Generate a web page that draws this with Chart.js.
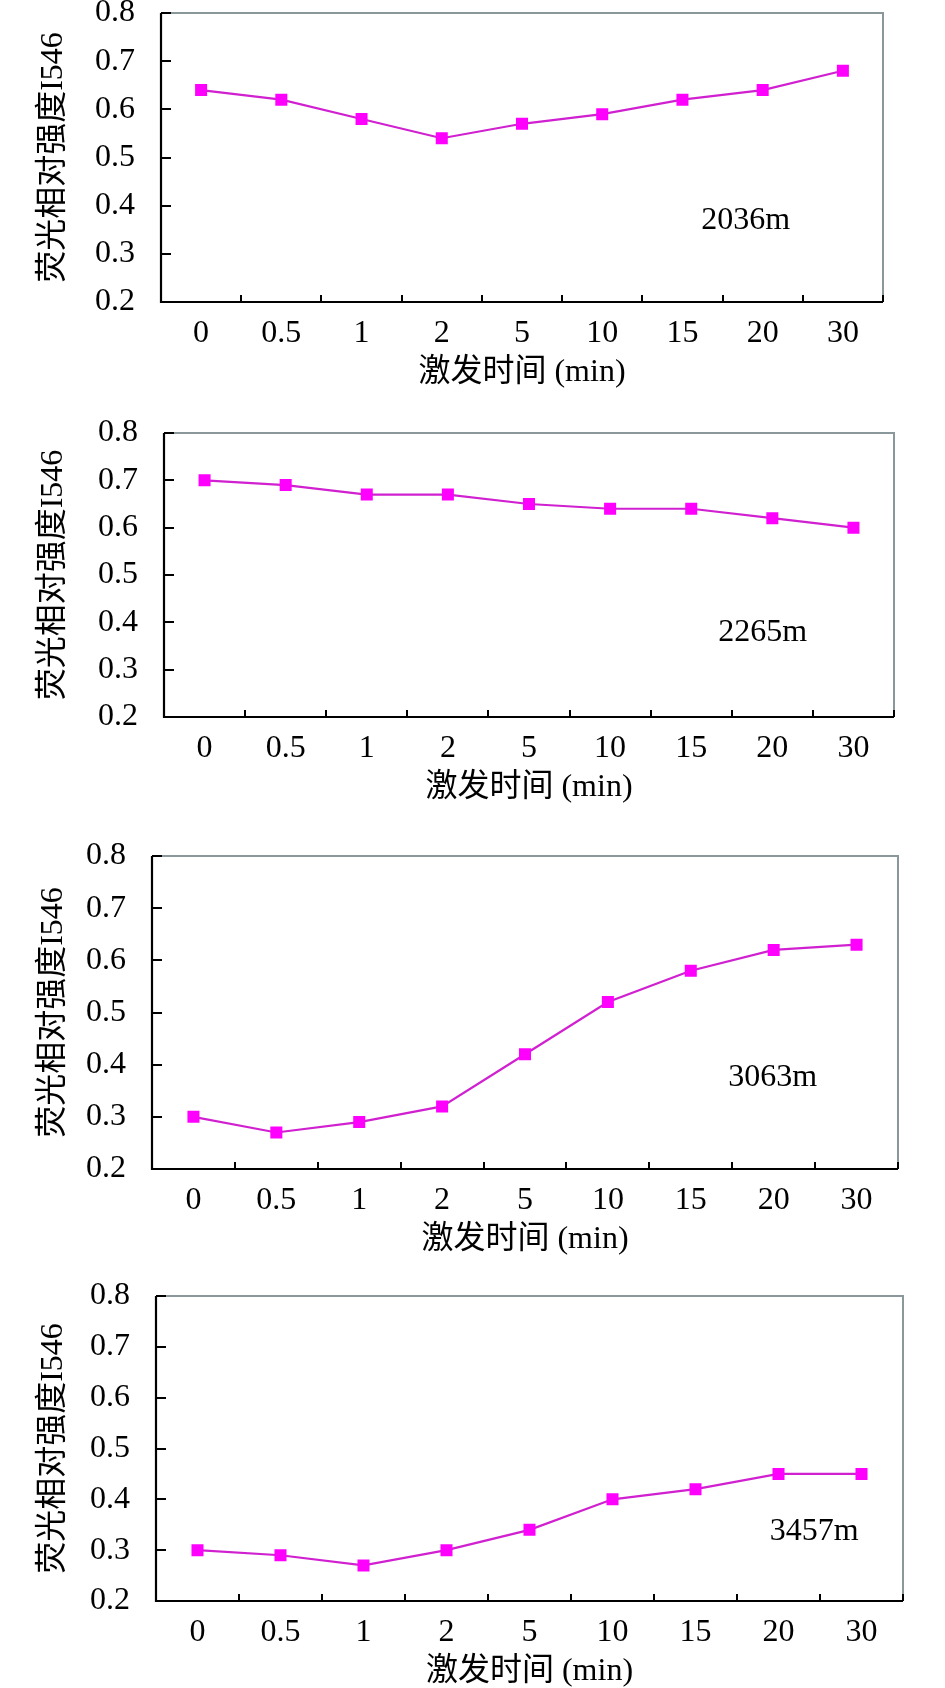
<!DOCTYPE html>
<html>
<head>
<meta charset="utf-8">
<script src="https://cdn.jsdelivr.net/npm/chart.js@4/dist/chart.umd.min.js"></script>
<style>
  html, body { margin: 0; padding: 0; background: #fff; width: 945px; height: 1688px; overflow: hidden; }
  canvas { position: absolute; left: 0; }
</style>
</head>
<body>
<canvas id="c1"></canvas>
<canvas id="c2"></canvas>
<canvas id="c3"></canvas>
<canvas id="c4"></canvas>
<script>
// ---- data ----
const categories = ['0', '0.5', '1', '2', '5', '10', '15', '20', '30'];
const values2036 = [0.64, 0.62, 0.58, 0.54, 0.57, 0.59, 0.62, 0.64, 0.68];
const values2265 = [0.70, 0.69, 0.67, 0.67, 0.65, 0.64, 0.64, 0.62, 0.60];
const values3063 = [0.30, 0.27, 0.29, 0.32, 0.42, 0.52, 0.58, 0.62, 0.63];
const values3457 = [0.30, 0.29, 0.27, 0.30, 0.34, 0.40, 0.42, 0.45, 0.45];
const depthLabels = ['2036m', '2265m', '3063m', '3457m'];
const yTicks = [0.2, 0.3, 0.4, 0.5, 0.6, 0.7, 0.8];
const yTitle = '荧光相对强度I546';
const xTitle = '激发时间 (min)';

// ---- layout (page pixels) ----
const panels = [
  { id: 'c1', data: values2036, label: depthLabels[0], top: 0,    L: 161, R: 883, T: 13,   B: 302,  ax: 0.81,  ay: 0.72 },
  { id: 'c2', data: values2265, label: depthLabels[1], top: 402,  L: 164, R: 894, T: 433,  B: 717,  ax: 0.82,  ay: 0.704 },
  { id: 'c3', data: values3063, label: depthLabels[2], top: 817,  L: 152, R: 898, T: 856,  B: 1169, ax: 0.832, ay: 0.709 },
  { id: 'c4', data: values3457, label: depthLabels[3], top: 1269, L: 156, R: 903, T: 1296, B: 1601, ax: 0.881, ay: 0.774 }
];

const FONT = "'Liberation Serif', 'Times New Roman', 'Noto Sans CJK SC', serif";
const XAXIS_H = 100;

const framePlugin = {
  id: 'frame',
  afterDraw(chart, args, opts) {
    const ctx = chart.ctx;
    const a = chart.chartArea;
    const xs = chart.scales.x, ys = chart.scales.y;
    ctx.save();
    // gray top and right border
    ctx.strokeStyle = '#8a979b';
    ctx.lineWidth = 2;
    ctx.beginPath();
    ctx.moveTo(a.left, a.top);
    ctx.lineTo(a.right, a.top);
    ctx.lineTo(a.right, a.bottom);
    ctx.stroke();
    // black left & bottom axis lines
    ctx.strokeStyle = '#000';
    ctx.lineWidth = 2.2;
    ctx.beginPath();
    ctx.moveTo(a.left, a.top);
    ctx.lineTo(a.left, a.bottom);
    ctx.lineTo(a.right, a.bottom);
    ctx.stroke();
    // inward ticks
    ctx.lineWidth = 2;
    ctx.beginPath();
    yTicks.forEach(v => {
      const y = Math.round(ys.getPixelForValue(v));
      ctx.moveTo(a.left, y);
      ctx.lineTo(a.left + 10, y);
    });
    for (let k = 0; k <= categories.length; k++) {
      const x = Math.round(xs.getPixelForValue(k - 0.5));
      ctx.moveTo(x, a.bottom);
      ctx.lineTo(x, a.bottom - 7);
    }
    ctx.stroke();
    // depth annotation
    ctx.fillStyle = '#000';
    ctx.font = "32px " + FONT;
    ctx.textAlign = 'center';
    ctx.textBaseline = 'middle';
    ctx.fillText(opts.text, a.left + opts.fx * (a.right - a.left), a.top + opts.fy * (a.bottom - a.top));
    ctx.restore();
  }
};

function noPad(s) { s.paddingTop = 0; s.paddingBottom = 0; s.paddingLeft = 0; s.paddingRight = 0; }

panels.forEach(p => {
  const cv = document.getElementById(p.id);
  const h = (p.B - p.top) + XAXIS_H;
  cv.width = 945; cv.height = h;
  cv.style.width = '945px'; cv.style.height = h + 'px';
  cv.style.top = p.top + 'px';
  new Chart(cv, {
    type: 'line',
    data: {
      labels: categories,
      datasets: [{
        data: p.data,
        borderColor: '#d020d0',
        borderWidth: 2.2,
        backgroundColor: '#ff00ff',
        pointStyle: 'rect',
        pointRadius: 8.5,
        pointBorderWidth: 0,
        pointBackgroundColor: '#ff00ff',
        tension: 0,
        fill: false
      }]
    },
    options: {
      responsive: false,
      animation: false,
      devicePixelRatio: 1,
      layout: { autoPadding: false, padding: { left: 0, right: 945 - p.R, top: p.T - p.top, bottom: 0 } },
      plugins: {
        legend: { display: false },
        tooltip: { enabled: false },
        frame: { text: p.label, fx: p.ax, fy: p.ay }
      },
      scales: {
        x: {
          type: 'category',
          offset: true,
          grid: { display: false, drawTicks: false, offset: true },
          border: { display: false },
          ticks: { color: '#000', font: { family: FONT, size: 32 }, padding: 12, maxRotation: 0, autoSkip: false },
          title: { display: true, text: xTitle, color: '#000', font: { family: FONT, size: 32 }, padding: { top: 0, bottom: 10 } },
          afterFit(s) { s.height = XAXIS_H; noPad(s); }
        },
        y: {
          min: 0.2, max: 0.8,
          grid: { display: false, drawTicks: false },
          border: { display: false },
          ticks: {
            stepSize: 0.1, color: '#000', padding: 26,
            font: { family: FONT, size: 32 },
            callback: v => Number(v).toFixed(1)
          },
          title: { display: true, text: yTitle, color: '#000', font: { family: FONT, size: 32 }, padding: { top: 34, bottom: 0 } },
          afterFit(s) { s.width = p.L; noPad(s); }
        }
      }
    },
    plugins: [framePlugin]
  });
});
</script>
</body>
</html>
